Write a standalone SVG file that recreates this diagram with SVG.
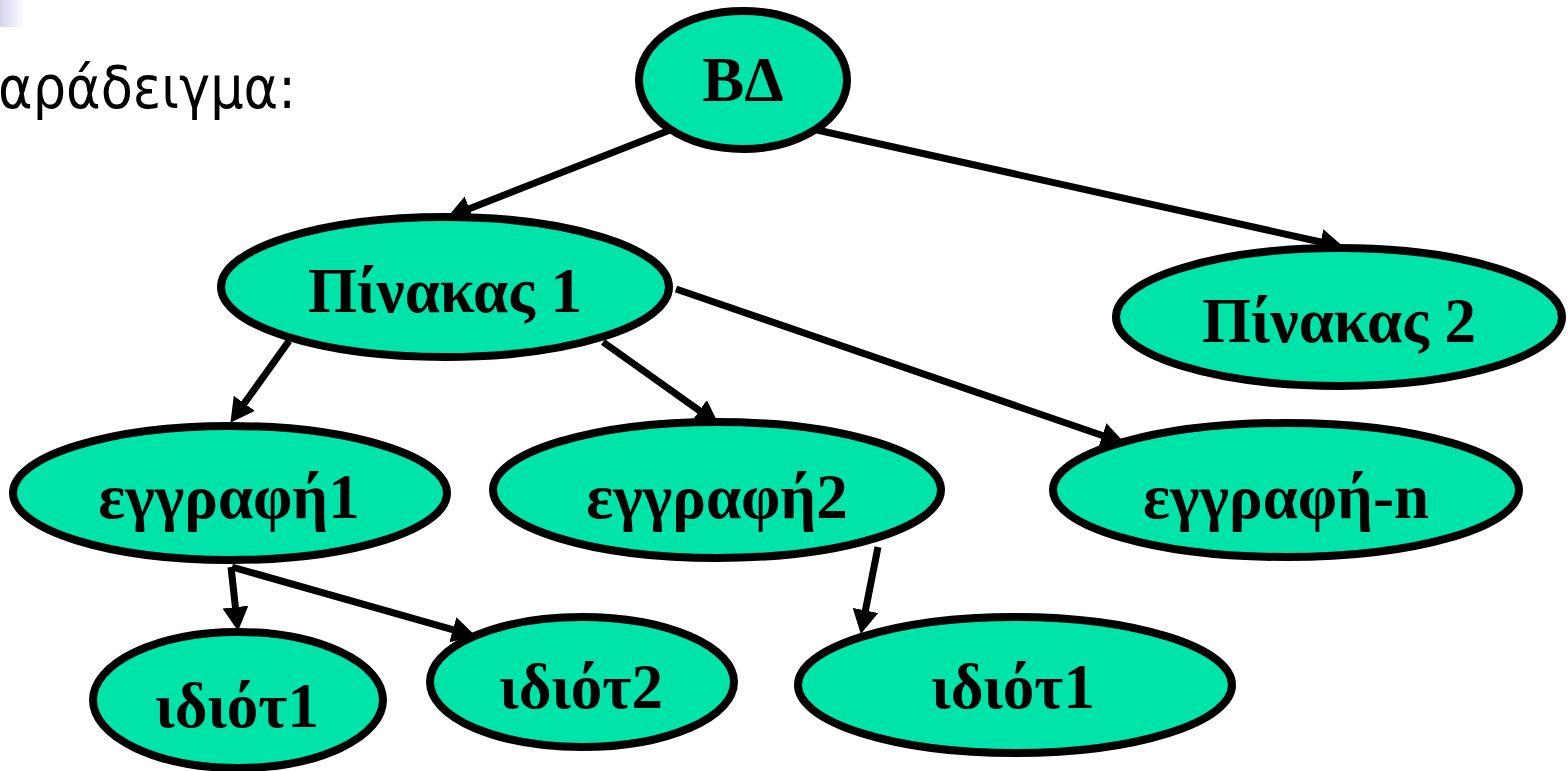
<svg xmlns="http://www.w3.org/2000/svg" width="1568" height="771" viewBox="0 0 1568 771">
<style>
.node ellipse{fill:#00E4AA;stroke:#000;stroke-width:8}
.node text{font-family:"Liberation Serif","Times New Roman",serif;font-weight:bold;font-size:63px;text-anchor:middle;fill:#000}
.edge{stroke:#000;stroke-width:7;fill:none;marker-end:url(#arr)}
</style>
<defs>
<linearGradient id="corner" x1="0" y1="0" x2="1" y2="0">
<stop offset="0" stop-color="#d4d4f0"/>
<stop offset="1" stop-color="#ffffff"/>
</linearGradient>
<marker id="arr" markerUnits="userSpaceOnUse" markerWidth="26" markerHeight="28" refX="7" refY="13" orient="auto" viewBox="0 0 26 28">
<path d="M0,0 L24,13 L0,26 Z" fill="#000"/>
</marker>
</defs>
<rect width="1568" height="771" fill="#fff"/>
<rect x="0" y="0" width="26" height="27" fill="url(#corner)"/>
<text x="-2" y="108" font-family="DejaVu Sans, Verdana, sans-serif" font-size="58" textLength="298" lengthAdjust="spacingAndGlyphs" fill="#000">αράδειγμα:</text>

<g id="connectors">
<line class="edge" x1="670" y1="130" x2="462.9" y2="211.2"/>
<line class="edge" x1="817" y1="130" x2="1327.4" y2="243.5"/>
<line class="edge" x1="289" y1="341" x2="240.3" y2="409"/>
<line class="edge" x1="603" y1="342" x2="705" y2="414.7"/>
<line class="edge" x1="676" y1="289" x2="1108.9" y2="437.8"/>
<line class="edge" x1="231" y1="567" x2="236.2" y2="614.1"/>
<line class="edge" x1="232" y1="567" x2="459.6" y2="631.6"/>
<line class="edge" x1="878" y1="547" x2="864.1" y2="617.3"/>
</g>

<g id="n-bd" class="node"><ellipse cx="743" cy="80" rx="104" ry="69"/><text x="743" y="101">ΒΔ</text></g>
<g id="n-pin1" class="node"><ellipse cx="445" cy="287" rx="224" ry="70"/><text x="445" y="312">Πίνακας 1</text></g>
<g id="n-pin2" class="node"><ellipse cx="1339" cy="317" rx="223" ry="69"/><text x="1339" y="342">Πίνακας 2</text></g>
<g id="n-eg1" class="node"><ellipse cx="230" cy="493" rx="217" ry="67"/><text x="229" y="518">εγγραφή1</text></g>
<g id="n-eg2" class="node"><ellipse cx="717" cy="490" rx="224" ry="68"/><text x="717" y="518">εγγραφή2</text></g>
<g id="n-egn" class="node"><ellipse cx="1286" cy="490" rx="233" ry="67"/><text x="1286" y="518">εγγραφή-n</text></g>
<g id="n-id1a" class="node"><ellipse cx="238" cy="700" rx="145" ry="68"/><text x="237" y="727">ιδιότ1</text></g>
<g id="n-id2" class="node"><ellipse cx="582" cy="682" rx="152" ry="65"/><text x="581" y="708">ιδιότ2</text></g>
<g id="n-id1b" class="node"><ellipse cx="1015" cy="685" rx="217" ry="68"/><text x="1013" y="708">ιδιότ1</text></g>
</svg>
